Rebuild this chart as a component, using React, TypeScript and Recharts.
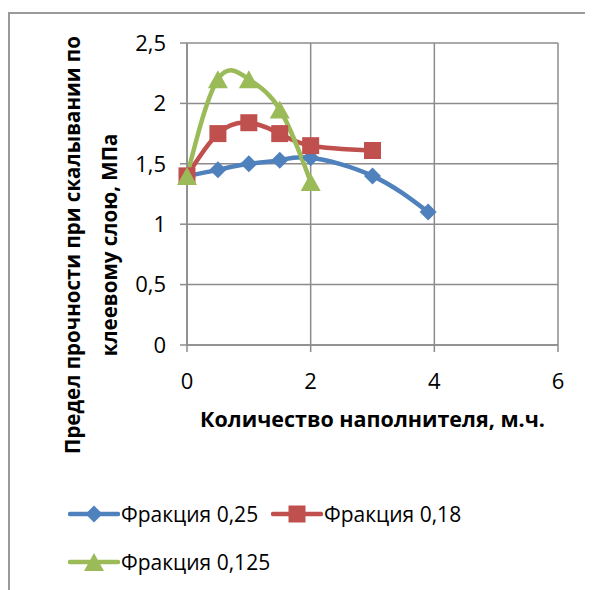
import React from 'react';
import { LineChart, Line, XAxis, YAxis, CartesianGrid } from 'recharts';

// Filler amount (parts by weight) and shear strength (MPa) for each fraction
const filler025 = [0, 0.5, 1, 1.5, 2, 3, 3.9];
const strength025 = [1.4, 1.45, 1.5, 1.53, 1.55, 1.4, 1.1];

const filler018 = [0, 0.5, 1, 1.5, 2, 3];
const strength018 = [1.4, 1.75, 1.84, 1.75, 1.65, 1.61];

const filler0125 = [0, 0.5, 1, 1.5, 2];
const strength0125 = [1.4, 2.2, 2.2, 1.95, 1.35];

const xTicks = [0, 2, 4, 6];
const yTicks = [0, 0.5, 1, 1.5, 2, 2.5];

const seriesNames = ['Фракция 0,25', 'Фракция 0,18', 'Фракция 0,125'];
const xTitle = 'Количество наполнителя, м.ч.';
const yTitleLines = ['Предел прочности при скалывании по', 'клеевому слою, МПа'];

const toPoints = (xs: number[], ys: number[]) => xs.map((x, i) => ({ x, y: ys[i] }));

const data025 = toPoints(filler025, strength025);
const data018 = toPoints(filler018, strength018);
const data0125 = toPoints(filler0125, strength0125);

const BLUE = '#4F81BD';
const RED = '#C0504D';
const GREEN = '#9BBB59';
const GRID = '#8c8c8c';
const FONT = '"Open Sans", sans-serif';

type Marker = 'diamond' | 'square' | 'triangle';

const markerShape = (kind: Marker, cx: number, cy: number, color: string, key?: React.Key) => {
  if (kind === 'diamond') {
    const r = 8.5;
    return (
      <path key={key} d={`M${cx},${cy - r} L${cx + r},${cy} L${cx},${cy + r} L${cx - r},${cy} Z`} fill={color} />
    );
  }
  if (kind === 'square') {
    const s = 8.5;
    return <rect key={key} x={cx - s} y={cy - s} width={s * 2} height={s * 2} fill={color} />;
  }
  const hw = 10;
  const hh = 9;
  return (
    <path key={key} d={`M${cx},${cy - hh} L${cx + hw},${cy + hh} L${cx - hw},${cy + hh} Z`} fill={color} />
  );
};

const makeDot = (kind: Marker, color: string) => (props: any) => {
  const { cx, cy, index } = props;
  if (cx == null || cy == null) return <g key={index} />;
  return markerShape(kind, cx, cy, color, index);
};

const commaTick = (v: number) => String(v).replace('.', ',');

const YTitle = (props: any) => {
  const vb = props.viewBox || { x: 0, y: 0 };
  const cy = 237;
  const xs = [vb.x + 64, vb.x + 101];
  return (
    <g>
      {yTitleLines.map((line, i) => (
        <text
          key={i}
          x={xs[i]}
          y={cy}
          transform={`rotate(-90, ${xs[i]}, ${cy})`}
          textAnchor="middle"
          dominantBaseline="central"
          fontFamily={FONT}
          fontSize={20.5}
          fontWeight="bold"
          fill="#000"
        >
          {line}
        </text>
      ))}
    </g>
  );
};

const LegendItem = ({ left, top, color, kind, label }: any) => (
  <div style={{ position: 'absolute', left, top, display: 'flex', alignItems: 'center', height: 24 }}>
    <svg width={52} height={24} style={{ display: 'block' }}>
      <line x1={2} y1={12} x2={50} y2={12} stroke={color} strokeWidth={4.5} strokeLinecap="round" />
      {markerShape(kind, 26, 12, color)}
    </svg>
    <span style={{ fontFamily: FONT, fontSize: 21, color: '#000', marginLeft: 1, whiteSpace: 'nowrap' }}>{label}</span>
  </div>
);

const App = () => {
  return (
    <div style={{ position: 'relative', width: 585, height: 582, background: '#fff' }}>
      <div
        style={{
          position: 'absolute',
          left: 0,
          top: 4,
          width: 585,
          height: 578,
          borderTop: '2px solid #9a9a9a',
          borderLeft: '2px solid #9a9a9a',
          boxSizing: 'border-box',
        }}
      />
      <LineChart width={585} height={582} margin={{ top: 35, right: 35, left: 0, bottom: 0 }} style={{ position: 'absolute', left: 0, top: 0 }}>
        <CartesianGrid stroke={GRID} strokeWidth={1.5} />
        <XAxis
          type="number"
          dataKey="x"
          domain={[0, 6]}
          ticks={xTicks}
          height={245}
          stroke={GRID}
          strokeWidth={1.5}
          tickSize={7}
          tickMargin={21}
          tick={{ fontFamily: FONT, fontSize: 22, fill: '#000' }}
          label={{
            value: xTitle,
            position: 'insideTop',
            offset: 67,
            style: { fontFamily: FONT, fontSize: 21.5, fontWeight: 'bold', fill: '#000' },
          }}
        />
        <YAxis
          type="number"
          domain={[0, 2.5]}
          ticks={yTicks}
          width={179}
          stroke={GRID}
          strokeWidth={1.5}
          tickSize={7}
          tickMargin={14}
          tickFormatter={commaTick}
          tick={{ fontFamily: FONT, fontSize: 22, fill: '#000' }}
          label={{ content: YTitle }}
        />
        <Line
          data={data025}
          dataKey="y"
          type="natural"
          stroke={BLUE}
          strokeWidth={4.5}
          dot={makeDot('diamond', BLUE)}
          activeDot={false}
          isAnimationActive={false}
        />
        <Line
          data={data018}
          dataKey="y"
          type="natural"
          stroke={RED}
          strokeWidth={4.5}
          dot={makeDot('square', RED)}
          activeDot={false}
          isAnimationActive={false}
        />
        <Line
          data={data0125}
          dataKey="y"
          type="natural"
          stroke={GREEN}
          strokeWidth={4.5}
          dot={makeDot('triangle', GREEN)}
          activeDot={false}
          isAnimationActive={false}
        />
      </LineChart>
      <LegendItem left={60} top={494} color={BLUE} kind="diamond" label={seriesNames[0]} />
      <LegendItem left={263} top={494} color={RED} kind="square" label={seriesNames[1]} />
      <LegendItem left={60} top={542} color={GREEN} kind="triangle" label={seriesNames[2]} />
    </div>
  );
};

export default App;
